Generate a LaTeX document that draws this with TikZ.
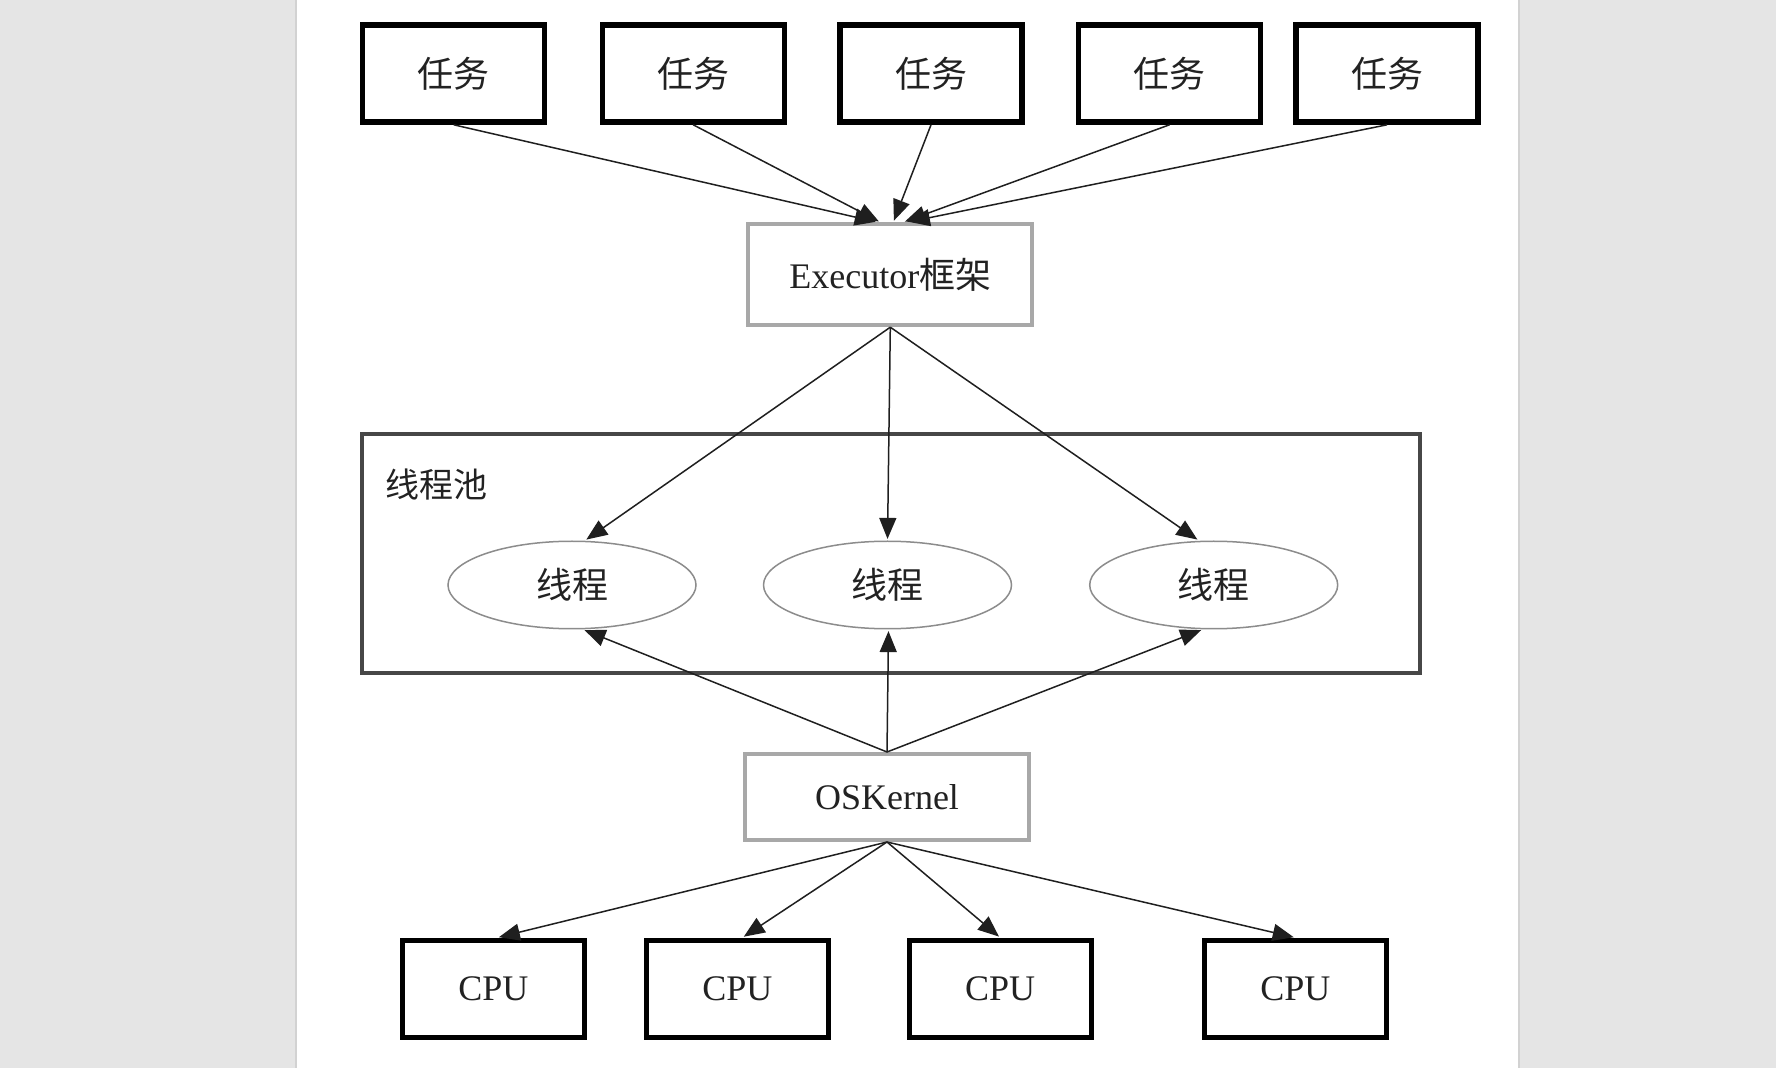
\documentclass[tikz,border=0pt]{standalone}
\usepackage{fontspec}
\setmainfont{Liberation Serif}
\newfontfamily\cjk{Noto Sans CJK SC}
\usetikzlibrary{arrows.meta,shapes.geometric}
\definecolor{bggray}{HTML}{E5E5E5}
\definecolor{edgegray}{HTML}{D2D2D2}
\definecolor{boxgray}{HTML}{A8A8A8}
\definecolor{poolgray}{HTML}{474747}
\definecolor{ellgray}{HTML}{8C8C8C}
\definecolor{txt}{HTML}{222222}
\newcommand\diafs{\fontsize{18pt}{21pt}\selectfont}
\begin{document}
\begin{tikzpicture}[x=0.5pt,y=-0.5pt,
  taskbox/.style={draw=black, line width=2.7pt, fill=white, minimum width=91pt, minimum height=48.5pt, inner sep=0pt, text=txt, font=\diafs\cjk},
  cpubox/.style={taskbox, font=\diafs},
  graybox/.style={draw=boxgray, line width=2pt, fill=white, minimum width=142pt, inner sep=0pt, text=txt, font=\diafs},
  thread/.style={ellipse, draw=ellgray, line width=0.75pt, fill=white, minimum width=124pt, minimum height=43.75pt, inner sep=0pt, text=txt, font=\diafs\cjk},
  arr/.style={-{Triangle[length=10.5pt,width=8.5pt]}, line width=0.75pt, draw=black!88, shorten >=0.8pt},
]
\useasboundingbox (0,0) rectangle (1776,1068);
\fill[bggray] (0,0) rectangle (1776,1068);
\fill[white] (296,0) rectangle (1519,1068);
\draw[edgegray, line width=1pt] (296,0) -- (296,1068);
\draw[edgegray, line width=1pt] (1519,0) -- (1519,1068);

% task boxes
\node[taskbox] (t1) at (453.7,73.6) {任务};
\node[taskbox] (t2) at (693.2,73.6) {任务};
\node[taskbox] (t3) at (931,73.6) {任务};
\node[taskbox] (t4) at (1169.5,73.6) {任务};
\node[taskbox] (t5) at (1387,73.6) {任务};

% executor
\node[graybox, minimum height=50.5pt] (ex) at (890.3,274.7) {Executor{\cjk 框架}};

% thread pool
\draw[poolgray, line width=2pt] (362,433.6) rectangle (1419.5,673);
\node[anchor=west, inner sep=0pt, text=txt, font=\fontsize{17pt}{20pt}\selectfont\cjk] (pl) at (385,485) {线程池};

\node[thread] (th1) at (572,585) {线程};
\node[thread] (th2) at (887.5,585) {线程};
\node[thread] (th3) at (1213.7,585) {线程};

% OS kernel
\node[graybox, minimum height=43pt] (os) at (887,797) {OSKernel};

% CPUs
\node[cpubox] (c1) at (493.3,988.8) {CPU};
\node[cpubox] (c2) at (737.4,988.8) {CPU};
\node[cpubox] (c3) at (1000.2,988.8) {CPU};
\node[cpubox] (c4) at (1295.3,988.8) {CPU};

% task -> executor
\draw[arr] (t1.south) -- ([xshift=-6.5pt]ex.north);
\draw[arr] (t2.south) -- ([xshift=-5pt]ex.north);
\draw[arr] (t3.south) -- ([xshift=1.5pt]ex.north);
\draw[arr] (t4.south) -- ([xshift=6.5pt]ex.north);
\draw[arr] (t5.south) -- ([xshift=8.5pt]ex.north);

% executor -> threads
\draw[arr] (ex.south) -- ([xshift=6.5pt]th1.north);
\draw[arr] (ex.south) -- (th2.north);
\draw[arr] (ex.south) -- ([xshift=-7.5pt]th3.north);

% os -> threads
\draw[arr] (os.north) -- ([xshift=5.5pt]th1.south);
\draw[arr] (os.north) -- ([xshift=0.5pt]th2.south);
\draw[arr] (os.north) -- ([xshift=-5.5pt]th3.south);

% os -> cpus
\draw[arr] (os.south) -- ([xshift=2pt]c1.north);
\draw[arr] (os.south) -- ([xshift=2.5pt]c2.north);
\draw[arr] (os.south) -- (c3.north);
\draw[arr] (os.south) -- (c4.north);
\end{tikzpicture}
\end{document}
